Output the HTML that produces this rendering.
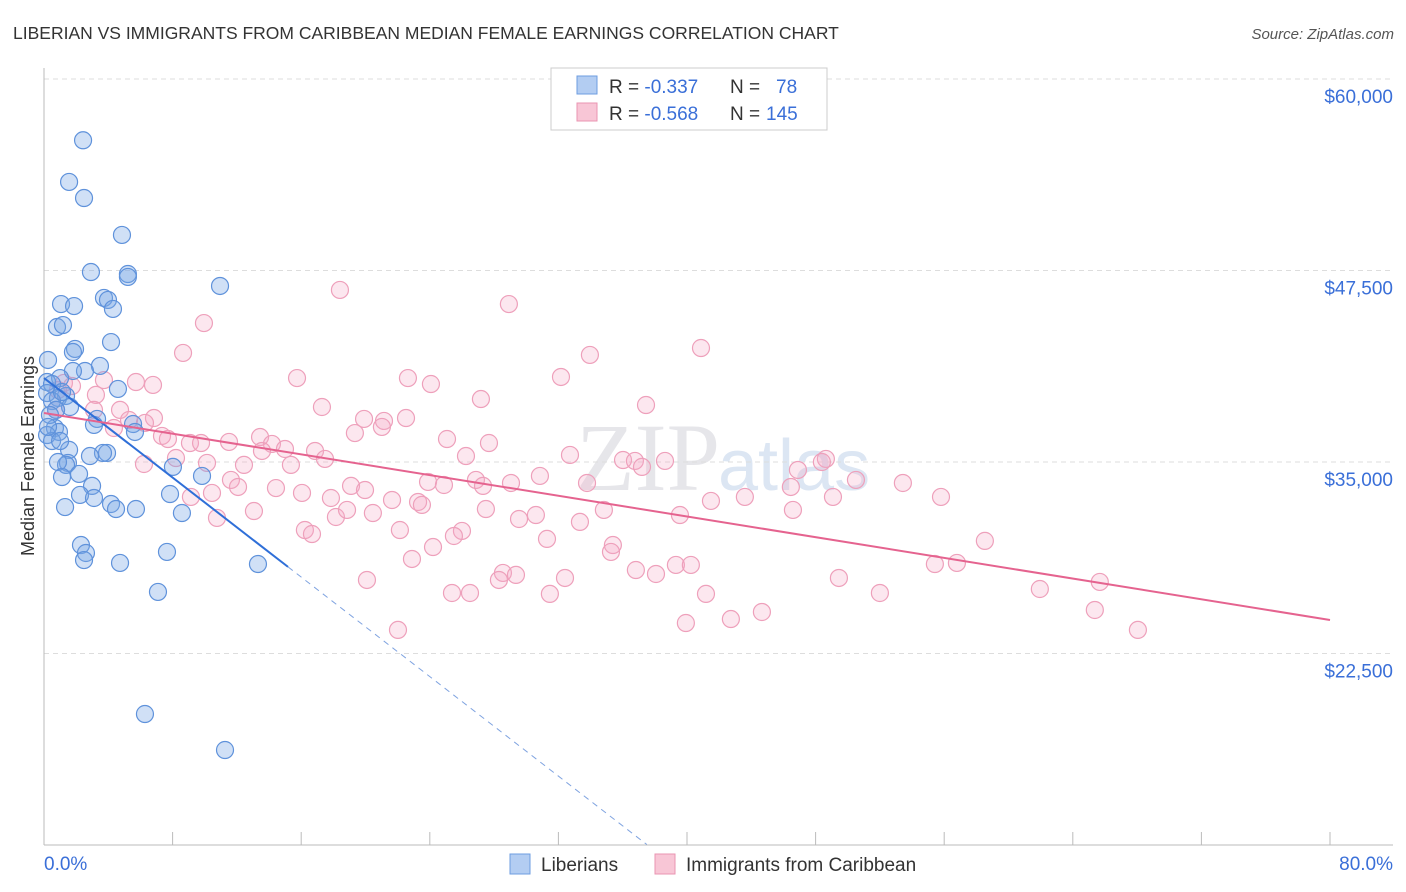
<!DOCTYPE html>
<html><head><meta charset="utf-8"><style>
body{margin:0;background:#fff;font-family:"Liberation Sans",sans-serif;}
svg{display:block}
</style></head><body>
<svg id="chart" width="1406" height="892" viewBox="0 0 1406 892" xmlns="http://www.w3.org/2000/svg">
<text x="13" y="39" font-size="17.5" fill="#333">LIBERIAN VS IMMIGRANTS FROM CARIBBEAN MEDIAN FEMALE EARNINGS CORRELATION CHART</text>
<text x="1394" y="39" font-size="15" fill="#555" font-style="italic" text-anchor="end">Source: ZipAtlas.com</text>
<text x="720" y="490" font-size="96" fill="#e6e6ea" text-anchor="end" font-family="Liberation Serif,serif">ZIP</text>
<text x="718" y="490" font-size="72" fill="#dce6f3">atlas</text>
<g id="grid"></g>
<g id="axes"></g>
<g id="pts"></g>
<g id="lines"></g>
<g>
<rect x="551" y="68" width="276" height="62" fill="#fff" stroke="#ccc"/>
<rect x="577" y="76" width="20" height="18" fill="#b3cdf2" stroke="#6e9de0"/>
<rect x="577" y="103" width="20" height="18" fill="#f8c6d6" stroke="#ea94b2"/>
<text x="609" y="93" font-size="19" fill="#333">R = <tspan fill="#3a6fd8">-0.337</tspan><tspan x="730">N = </tspan><tspan x="776" fill="#3a6fd8">78</tspan></text>
<text x="609" y="120" font-size="19" fill="#333">R = <tspan fill="#3a6fd8">-0.568</tspan><tspan x="730">N = </tspan><tspan x="766" fill="#3a6fd8">145</tspan></text>
</g>
<g>
<rect x="510" y="854" width="20" height="20" fill="#b3cdf2" stroke="#6e9de0"/>
<text x="541" y="871" font-size="19" fill="#333">Liberians</text>
<rect x="655" y="854" width="20" height="20" fill="#f8c6d6" stroke="#ea94b2"/>
<text x="686" y="871" font-size="19" fill="#333">Immigrants from Caribbean</text>
</g>
</svg>
<script>
const blueX=[2.43,1.56,2.49,4.85,2.92,5.22,5.22,10.95,1.06,1.87,3.73,3.98,4.29,0.81,1.18,4.17,1.93,1.80,0.25,3.48,2.55,1.80,1.00,0.19,0.50,4.60,0.19,1.37,0.87,0.50,1.62,0.75,3.30,3.11,5.54,0.68,0.93,0.19,0.50,1.56,5.66,3.92,3.67,2.86,1.49,1.37,0.87,1.12,2.18,8.02,9.83,2.99,2.24,3.11,7.84,4.17,4.48,5.72,1.31,8.58,2.30,2.61,2.49,7.65,4.73,13.31,7.09,6.28,11.26,0.37,1.12,0.25,1.00];
const blueY=[56000,53280,52230,49820,47400,47270,47080,46490,45310,45180,45710,45580,44990,43810,43940,42830,42380,42180,41660,41270,40940,40940,40480,40220,40090,39770,39500,39310,39180,38980,38590,38400,37810,37420,37480,37220,36960,36760,36370,35790,36960,35590,35590,35390,34940,34810,35000,34020,34220,34680,34090,33440,32850,32650,32910,32260,31930,31930,32060,31670,29580,29060,28600,29130,28410,28340,26520,18550,16200,38070,39570,37290,36370];
const pinkX=[9.95,8.65,18.41,28.92,40.87,33.96,22.64,24.07,32.16,15.74,6.78,5.72,3.73,1.24,1.74,0.87,3.23,27.18,37.45,17.29,3.11,4.73,0.75,6.84,5.29,6.28,21.15,22.52,21.02,4.35,19.34,7.34,7.71,9.08,13.44,14.18,9.77,14.99,11.51,16.86,25.07,27.68,13.56,19.91,32.72,36.02,38.63,36.76,37.20,26.25,17.48,8.21,10.14,12.44,15.36,6.22,46.90,48.64,48.39,50.51,53.43,30.85,29.05,23.89,26.87,24.88,33.78,11.63,12.07,19.10,16.05,19.97,9.14,10.45,14.43,17.85,21.65,23.27,27.31,41.49,43.60,46.46,49.08,55.80,34.83,27.49,23.51,20.46,18.16,16.23,16.67,22.14,26.00,29.55,30.60,33.34,39.56,46.59,31.29,24.20,25.50,35.39,35.27,58.53,10.76,13.06,18.85,22.89,28.55,29.36,28.30,32.41,36.82,38.07,39.31,40.24,49.45,55.42,56.79,65.68,20.09,25.38,26.50,31.47,41.18,52.00,61.95,65.37,44.66,42.73,39.93,22.02,68.05];
const pinkY=[44070,42120,46230,45310,42440,41990,40480,40090,40550,40480,40030,40220,40350,40160,39960,39700,39380,39110,38720,38590,38400,38400,38400,37870,37740,37550,37680,37870,37290,37220,36890,36700,36500,36240,36630,36180,36240,35850,36310,35720,36500,36240,35720,37810,35460,35130,35070,35070,34680,35390,35200,35260,34940,34810,34810,34870,34480,35200,35000,33830,33630,34090,33630,33700,33830,33500,33630,33830,33370,33440,32980,33170,32720,32980,33300,32650,32520,32390,33440,32460,32720,33370,32720,32720,31870,31930,32200,31670,31410,30560,30300,30560,30500,31280,31540,31090,31540,31870,29980,29450,30170,29580,29130,29850,31350,31800,31870,28670,27760,27630,27300,27430,27950,27690,28280,28280,27430,28340,28410,27170,27300,26450,26450,26390,26390,26450,26710,25340,25210,24750,24490,24040,24040];
const yTicks=[22500,35000,47500,60000];
const yTickLabels=["$22,500","$35,000","$47,500","$60,000"];
const xTicks=[0,8,16,24,32,40,48,56,64,72,80];
const blueFit=[40480,-812,0,15.18,37.5];  // intercept, slope, solid start, solid end, dashed end
const pinkFit=[38200,-168.9,0,80];
const NS="http://www.w3.org/2000/svg";
const sx=v=>44+(v/80)*1286;
const sy=v=>845-(v-10000)/50000*766;
function mk(tag,attrs,parent){const e=document.createElementNS(NS,tag);for(const k in attrs)e.setAttribute(k,attrs[k]);parent.appendChild(e);return e;}
const grid=document.getElementById('grid'),axes=document.getElementById('axes'),pts=document.getElementById('pts'),lines=document.getElementById('lines');
yTicks.forEach((t,i)=>{
  const g=mk('line',{x1:44,x2:1393,y1:sy(t),y2:sy(t),stroke:'#ddd','stroke-dasharray':'5,4'},grid);
  
  
  const l=mk('text',{x:1393,y:sy(t)+24,'font-size':19,fill:'#3a6fd8','text-anchor':'end'},axes);
  l.textContent=yTickLabels[i];
  
  
});
const ax=mk('line',{x1:44,x2:44,y1:68,y2:845,stroke:'#bbb'},axes);


const bx=mk('line',{x1:44,x2:1393,y1:845,y2:845,stroke:'#bbb'},axes);


xTicks.forEach(t=>{
  const k=mk('line',{x1:sx(t),x2:sx(t),y1:832,y2:845,stroke:'#bbb'},axes);
  
  
});
const xl0=mk('text',{x:44,y:870,'font-size':19,fill:'#3a6fd8'},axes);xl0.textContent=xTicks[0].toFixed(1)+'%';


const xl1=mk('text',{x:1393,y:870,'font-size':19,fill:'#3a6fd8','text-anchor':'end'},axes);xl1.textContent=xTicks[xTicks.length-1].toFixed(1)+'%';


const yt=mk('text',{x:0,y:0,'font-size':18,fill:'#333','text-anchor':'middle',transform:'translate(34,456) rotate(-90)'},axes);yt.textContent='Median Female Earnings';


pinkX.forEach((x,i)=>{
  const c=mk('circle',{cx:sx(x),cy:sy(pinkY[i]),r:8.5,fill:'rgba(244,170,196,0.28)',stroke:'#eea0bb','stroke-width':1.2},pts);
  
  
});
blueX.forEach((x,i)=>{
  const c=mk('circle',{cx:sx(x),cy:sy(blueY[i]),r:8.5,fill:'rgba(120,165,230,0.35)',stroke:'#5f92db','stroke-width':1.2},pts);
  
  
});
const bf=x=>blueFit[0]+blueFit[1]*x, pf=x=>pinkFit[0]+pinkFit[1]*x;
const l1=mk('line',{x1:sx(blueFit[2]),y1:sy(bf(blueFit[2])),x2:sx(blueFit[3]),y2:sy(bf(blueFit[3])),stroke:'#2f6fd8','stroke-width':2},lines);


const l2=mk('line',{x1:sx(blueFit[3]),y1:sy(bf(blueFit[3])),x2:sx(blueFit[4]),y2:sy(bf(blueFit[4])),stroke:'#7fa3e0','stroke-width':1,'stroke-dasharray':'6,5'},lines);


const l3=mk('line',{x1:sx(pinkFit[2]),y1:sy(pf(pinkFit[2])),x2:sx(pinkFit[3]),y2:sy(pf(pinkFit[3])),stroke:'#e5638f','stroke-width':2},lines);


</script>
</body></html>
